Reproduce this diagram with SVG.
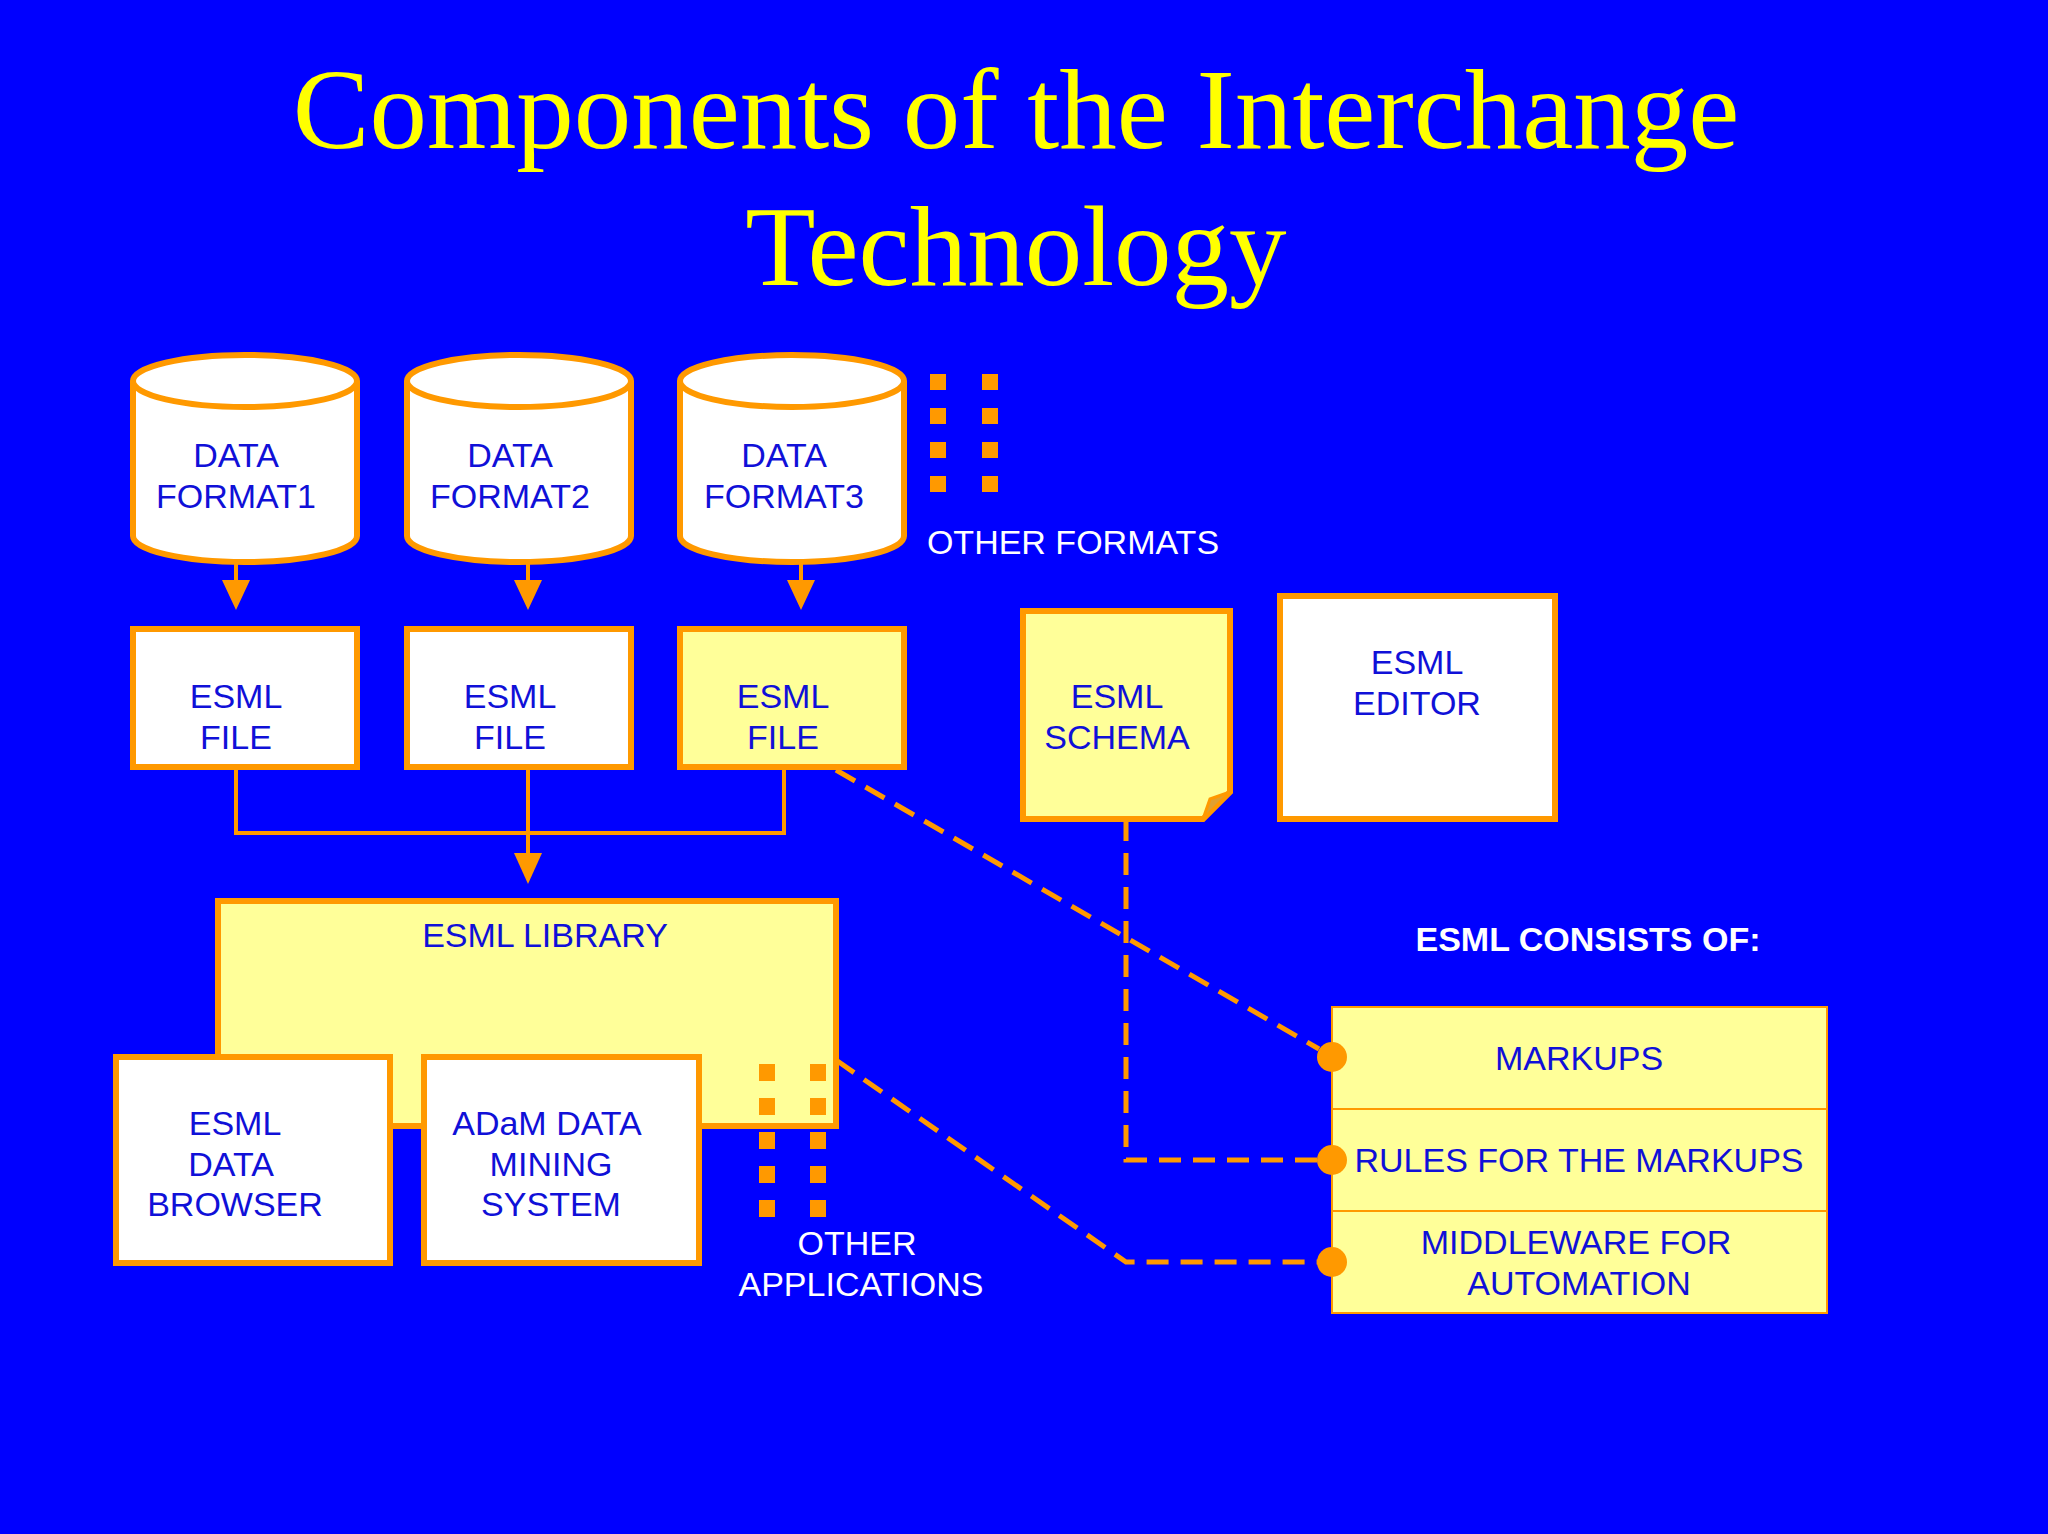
<svg xmlns="http://www.w3.org/2000/svg" width="2048" height="1534" viewBox="0 0 2048 1534">
<defs>
<style>
.t{font-family:"Liberation Sans",Arial,sans-serif;font-size:34px;fill:#1010d8;text-anchor:middle}
.w{font-family:"Liberation Sans",Arial,sans-serif;font-size:34px;fill:#ffffff;text-anchor:middle}
.box{stroke:#ff9900;stroke-width:6}
.wf{fill:#ffffff}.yf{fill:#ffff99}
.ln{stroke:#ff9900;stroke-width:4;fill:none}
.ds{stroke:#ff9900;stroke-width:5;fill:none;stroke-dasharray:22 12}
.dot{fill:#ff9900}
</style>
<marker id="ah" viewBox="0 0 10 10" refX="10" refY="5" markerWidth="6" markerHeight="6" markerUnits="userSpaceOnUse" orient="auto"><path d="M0,0L10,5L0,10z" fill="#ff9900"/></marker>
<marker id="ah2" viewBox="0 0 10 10" refX="10" refY="5" markerWidth="8" markerHeight="8" orient="auto"><path d="M0,0L10,5L0,10z" fill="#ff9900"/></marker>
</defs>
<rect width="2048" height="1534" fill="#0000ff"/>
<g id="title" font-family="'Liberation Serif','Times New Roman',serif" font-size="115" fill="#ffff00" text-anchor="middle">
<text x="1016" y="148">Components of the Interchange</text>
<text x="1016" y="285">Technology</text>
</g>
<g id="connectors">
<path class="ln" d="M236,562V598M528,562V598M801,562V598" />
<path d="M222,580h28l-14,30z M514,580h28l-14,30z M787,580h28l-14,30z" fill="#ff9900"/>
<path class="ln" d="M236,767V833H784V767M528,767V855"/>
<path d="M514,853h28l-14,31z" fill="#ff9900"/>
<path class="ds" d="M836,770L1319,1049"/>
<path class="ds" d="M1126,819V1160H1332"/>
<path class="ds" d="M836,1060L1126,1262H1332"/>
</g>
<g id="cyl1"><path class="box wf" d="M133,381V536A112,26 0 0 0 357,536V381"/><ellipse class="box wf" cx="245" cy="381" rx="112" ry="26"/><text class="t" x="236" y="467">DATA</text><text class="t" x="236" y="508">FORMAT1</text></g>
<g id="cyl2"><path class="box wf" d="M407,381V536A112,26 0 0 0 631,536V381"/><ellipse class="box wf" cx="519" cy="381" rx="112" ry="26"/><text class="t" x="510" y="467">DATA</text><text class="t" x="510" y="508">FORMAT2</text></g>
<g id="cyl3"><path class="box wf" d="M680,381V536A112,26 0 0 0 904,536V381"/><ellipse class="box wf" cx="792" cy="381" rx="112" ry="26"/><text class="t" x="784" y="467">DATA</text><text class="t" x="784" y="508">FORMAT3</text></g>
<g id="otherformats">
<g class="dot"><rect x="930" y="374" width="16" height="16"/><rect x="982" y="374" width="16" height="16"/><rect x="930" y="408" width="16" height="16"/><rect x="982" y="408" width="16" height="16"/><rect x="930" y="442" width="16" height="16"/><rect x="982" y="442" width="16" height="16"/><rect x="930" y="476" width="16" height="16"/><rect x="982" y="476" width="16" height="16"/></g>
<text class="w" x="1073" y="554">OTHER FORMATS</text></g>
<g id="file1"><rect class="box wf" x="133" y="629" width="224" height="138"/><text class="t" x="236" y="708">ESML</text><text class="t" x="236" y="749">FILE</text></g>
<g id="file2"><rect class="box wf" x="407" y="629" width="224" height="138"/><text class="t" x="510" y="708">ESML</text><text class="t" x="510" y="749">FILE</text></g>
<g id="file3"><rect class="box yf" x="680" y="629" width="224" height="138"/><text class="t" x="783" y="708">ESML</text><text class="t" x="783" y="749">FILE</text></g>
<g id="schema"><path class="box yf" d="M1023,611H1230V792L1203,819H1023Z"/><path d="M1203,819L1210,799L1230,792Z" fill="#e0a030" stroke="#ff9900" stroke-width="3"/><text class="t" x="1117" y="708">ESML</text><text class="t" x="1117" y="749">SCHEMA</text></g>
<g id="editor"><rect class="box wf" x="1280" y="596" width="275" height="223"/><text class="t" x="1417" y="674">ESML</text><text class="t" x="1417" y="715">EDITOR</text></g>
<g id="library"><rect class="box yf" x="218" y="901" width="618" height="225"/><text class="t" x="545" y="947">ESML LIBRARY</text></g>
<g id="browser"><rect class="box wf" x="116" y="1057" width="274" height="206"/><text class="t" x="235" y="1135">ESML</text><text class="t" x="231" y="1176">DATA</text><text class="t" x="235" y="1216">BROWSER</text></g>
<g id="adam"><rect class="box wf" x="424" y="1057" width="275" height="206"/><text class="t" x="547" y="1135">ADaM DATA</text><text class="t" x="551" y="1176">MINING</text><text class="t" x="551" y="1216">SYSTEM</text></g>
<g id="otherapps">
<g class="dot"><rect x="759" y="1064" width="16" height="17"/><rect x="810" y="1064" width="16" height="17"/><rect x="759" y="1098" width="16" height="17"/><rect x="810" y="1098" width="16" height="17"/><rect x="759" y="1132" width="16" height="17"/><rect x="810" y="1132" width="16" height="17"/><rect x="759" y="1166" width="16" height="17"/><rect x="810" y="1166" width="16" height="17"/><rect x="759" y="1200" width="16" height="17"/><rect x="810" y="1200" width="16" height="17"/></g>
<text class="w" x="857" y="1255">OTHER</text><text class="w" x="861" y="1296">APPLICATIONS</text></g>
<g id="consists"><text class="w" x="1588" y="951" font-weight="bold" font-size="38">ESML CONSISTS OF:</text></g>
<g id="table">
<rect x="1332" y="1007" width="495" height="306" fill="#ffff99" stroke="#ff9900" stroke-width="2"/>
<path d="M1332,1109H1827M1332,1211H1827" stroke="#ff9900" stroke-width="2"/>
<text class="t" x="1579" y="1070">MARKUPS</text>
<text class="t" x="1579" y="1172">RULES FOR THE MARKUPS</text>
<text class="t" x="1576" y="1254">MIDDLEWARE FOR</text>
<text class="t" x="1579" y="1295">AUTOMATION</text>
<circle class="dot" cx="1332" cy="1057" r="15"/><circle class="dot" cx="1332" cy="1160" r="15"/><circle class="dot" cx="1332" cy="1262" r="15"/>
</g>
</svg>
